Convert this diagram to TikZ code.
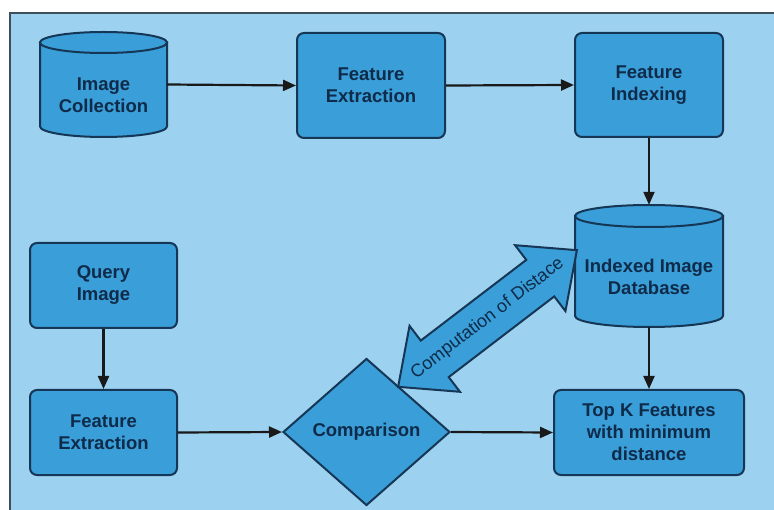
\documentclass[tikz,border=0pt]{standalone}
\usepackage{fontspec}
\setmainfont{Liberation Sans}
\usetikzlibrary{shapes.geometric,shapes.arrows,arrows.meta}
\definecolor{bgc}{HTML}{9DD1F0}
\definecolor{boxc}{HTML}{3A9ED8}
\definecolor{bordc}{HTML}{163655}
\definecolor{txtc}{HTML}{0F2B4A}
\definecolor{framec}{HTML}{3E4E5C}
\tikzset{
  box/.style={draw=bordc, fill=boxc, line width=2pt, rounded corners=7pt, text=txtc,
    font=\bfseries\fontsize{18.5}{22}\selectfont, align=center, inner sep=0pt},
  cylarea/.style={inner sep=0pt},
  cyl/.style={draw=bordc, fill=boxc, line width=2pt},
  lbl/.style={text=txtc, font=\bfseries\fontsize{18.5}{22}\selectfont, align=center, inner sep=0pt},
  conn/.style={draw=black!90, line width=2.2pt, -{Triangle[length=13pt,width=11pt]}},
  bigarrow/.style={shape=double arrow, draw=bordc, fill=boxc, line width=2pt,
    inner xsep=0pt, inner ysep=22pt, minimum height=225pt, minimum width=81pt,
    double arrow head extend=18.5pt, double arrow tip angle=84},
}
\begin{document}
\begin{tikzpicture}[x=1pt,y=-1pt]
\useasboundingbox (0,0) rectangle (774,510);
\fill[white] (0,0) rectangle (774,510);
\draw[fill=bgc, draw=framec, line width=2pt] (10,13) rectangle (800,540);

% cylinder: Image Collection
\node[cylarea, minimum width=127pt, minimum height=105pt] (ic) at (103.5,84.5) {};
\path[cyl] (40,42.5) -- (40,126.5) arc[start angle=180, end angle=0, x radius=63.5, y radius=10.5] -- (167,42.5) -- cycle;
\path[cyl] (103.5,42.5) ellipse[x radius=63.5, y radius=10.5];
\node[lbl] (icl) at (103.5,95) {Image\\Collection};

% cylinder: Indexed Image Database
\node[cylarea, minimum width=148pt, minimum height=122pt] (db) at (649,266) {};
\path[cyl] (575,216) -- (575,316) arc[start angle=180, end angle=0, x radius=74, y radius=11] -- (723,216) -- cycle;
\path[cyl] (649,216) ellipse[x radius=74, y radius=11];
\node[lbl] (dbl) at (649,277) {Indexed Image\\Database};

% boxes
\node[box, minimum width=148pt, minimum height=105pt] (fe1) at (371,85.5) {Feature\\Extraction};
\node[box, minimum width=148pt, minimum height=104pt] (fi) at (649,85) {Feature\\Indexing};
\node[box, minimum width=147pt, minimum height=85pt] (qi) at (103.5,285.5) {Query\\Image};
\node[box, minimum width=147pt, minimum height=85pt] (fe2) at (103.5,432.5) {Feature\\Extraction};
\node[box, minimum width=190pt, minimum height=85pt] (topk) at (649,432.5) {Top K Features\\with minimum\\distance};
\node[box, shape=diamond, rounded corners=0pt, minimum width=167pt, minimum height=147pt] (cmp) at (366.5,432) {Comparison};

% double arrow
\node[bigarrow, rotate=37.4] (cod) at (487.5,318.5) {};
\node[text=txtc, font=\fontsize{18}{20}\selectfont, rotate=37.4, inner sep=0pt] (codl) at (cod.center) {Computation of Distace};

% connectors
\draw[conn] (ic.east) -- (fe1.west);
\draw[conn] (fe1.east) -- (fi.west);
\draw[conn] (fi.south) -- (db.north);
\draw[conn] (db.south) -- (topk.north);
\draw[conn] (qi.south) -- (fe2.north);
\draw[conn] (fe2.east) -- (cmp.west);
\draw[conn] (cmp.east) -- (topk.west);
\end{tikzpicture}
\end{document}
